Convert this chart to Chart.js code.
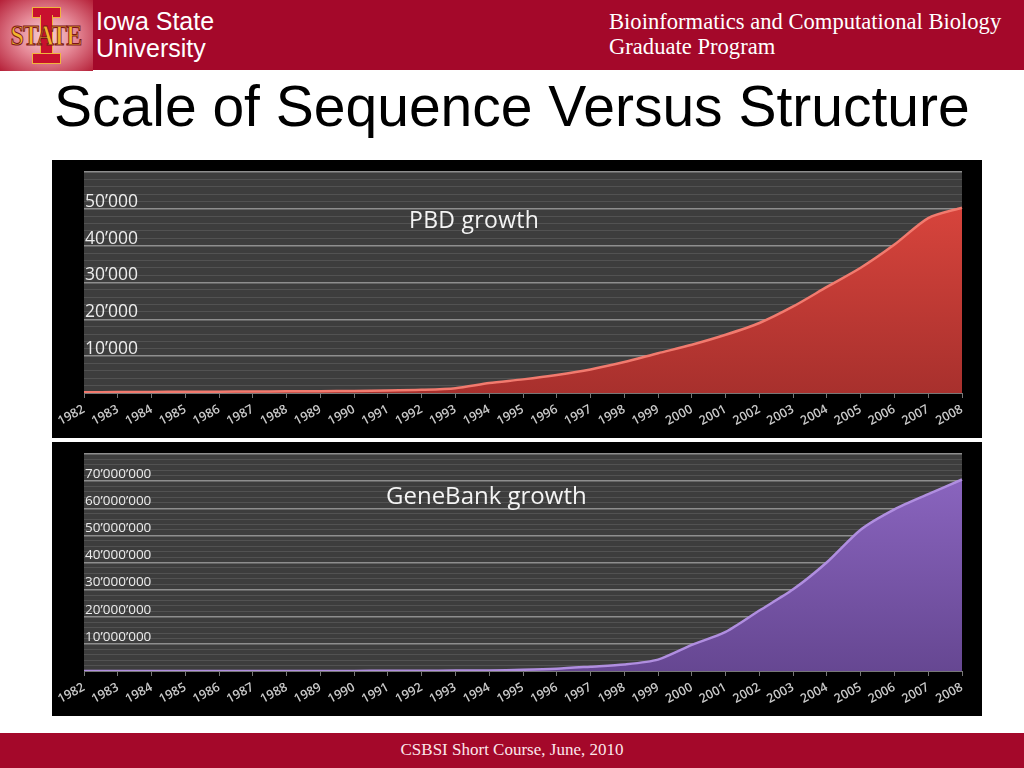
<!DOCTYPE html>
<html>
<head>
<meta charset="utf-8">
<title>Scale of Sequence Versus Structure</title>
<script src="https://cdn.jsdelivr.net/npm/chart.js@4.4.0/dist/chart.umd.min.js"></script>
<style>
  body { margin: 0; width: 1024px; height: 768px; background: #fff; position: relative; overflow: hidden; font-family: "Liberation Sans", Arial, sans-serif; }
  #header { position: absolute; left: 0; top: 0; width: 1024px; height: 70px; background: #a4082a; }
  #logo { position: absolute; left: 0; top: 0; width: 93px; height: 71px; background: radial-gradient(ellipse at 50% 50%, #f8d3d8 0%, #e58896 45%, #b52038 100%); overflow: hidden; }
  .ibar { position: absolute; background: #c8102e; border: 1px solid #f0b43c; }
  #state { position: absolute; left: -4px; top: 18px; width: 100px; text-align: center; font: bold 30px "Liberation Serif", serif; color: #f3b52c; -webkit-text-stroke: 1px #7a1418; transform: scaleX(0.8); letter-spacing: -1px; }
  #isu { position: absolute; left: 96px; top: 8px; font-size: 25px; line-height: 27px; color: #fff; }
  #program { position: absolute; left: 609px; top: 9px; font: 22.6px/25px "Liberation Serif", "Times New Roman", serif; color: #fff; }
  #title { position: absolute; left: 54px; top: 78px; font-size: 57px; line-height: 56px; color: #000; white-space: nowrap; }
  .panel { position: absolute; left: 52px; width: 930px; background: #000; }
  .ctitle { position: absolute; font: 23px/23px "Open Sans", sans-serif; color: #f4f4f4; letter-spacing: 0.3px; }
  #footer { position: absolute; left: 0; top: 733px; width: 1024px; height: 35px; background: #a4082a; text-align: center; font: 17px/33px "Liberation Serif", "Times New Roman", serif; color: #fbe6ea; }
</style>
</head>
<body>
<div id="header"></div>
<div id="logo">
  <div class="ibar" style="left:32px;top:7px;width:27px;height:9px"></div>
  <div class="ibar" style="left:40px;top:15px;width:11px;height:40px;border-top:none;border-bottom:none"></div>
  <div class="ibar" style="left:32px;top:53px;width:27px;height:9px"></div>
  <div id="state">STATE</div>
</div>
<div id="isu">Iowa State<br>University</div>
<div id="program">Bioinformatics and Computational Biology<br>Graduate Program</div>
<div id="title">Scale of Sequence Versus Structure</div>

<div class="panel" style="top:160px;height:278px"><canvas id="pdbchart"></canvas></div>
<div class="panel" style="top:442px;height:274px"><canvas id="genbankchart"></canvas></div>
<div class="ctitle" style="left:409px;top:208px">PBD growth</div>
<div class="ctitle" style="left:386px;top:483px;font-size:24px;letter-spacing:0">GeneBank growth</div>

<div id="footer">CSBSI Short Course, June, 2010</div>

<script>
// values
var years = ['1982', '1983', '1984', '1985', '1986', '1987', '1988', '1989', '1990', '1991',
    '1992', '1993', '1994', '1995', '1996', '1997', '1998', '1999', '2000', '2001',
    '2002', '2003', '2004', '2005', '2006', '2007', '2008']

var pdbCounts = [200, 250, 300, 320, 350, 400, 450, 500, 550, 650,
    850, 1300, 2700, 3700, 4900, 6400, 8400, 10800, 13100, 15800,
    19000, 23500, 28800, 34000, 40300, 47500, 50300]

var genbankCounts = [600, 2000, 4000, 6000, 10000, 15000, 20000, 30000, 40000, 55000,
    80000, 140000, 220000, 450000, 850000, 1600000, 2400000, 4200000, 9600000, 14400000,
    22300000, 30100000, 40100000, 52100000, 59600000, 65200000, 70600000]

var pdbTickValues = [10000, 20000, 30000, 40000, 50000]
var genbankTickValues = [10000000, 20000000, 30000000, 40000000, 50000000, 60000000, 70000000]

function withQuotes(v) {
    return String(v).replace(/\B(?=(\d{3})+(?!\d))/g, '\u2019');
}

var plotBackground = {
    id: 'plotBackground',
    beforeDraw: function (chart) {
        var a = chart.chartArea;
        var c = chart.ctx;
        c.save();
        c.fillStyle = '#3d3d3d';
        c.fillRect(a.left, a.top, a.right - a.left, a.bottom - a.top);
        c.restore();
    }
};

function makeChart(id, values, yMax, minorStep, majorStep, tickValues, labelSize, lineColor, topColor, bottomColor) {
    var ctx = document.getElementById(id);
    return new Chart(ctx, {
        type: 'line',
        data: {
            labels: years,
            datasets: [{
                data: values,
                fill: 'origin',
                borderColor: lineColor,
                borderWidth: 2.5,
                pointRadius: 0,
                tension: 0.25,
                backgroundColor: function (context) {
                    var area = context.chart.chartArea;
                    if (!area) return bottomColor;
                    var g = context.chart.ctx.createLinearGradient(0, area.top, 0, area.bottom);
                    g.addColorStop(0, topColor);
                    g.addColorStop(1, bottomColor);
                    return g;
                }
            }]
        },
        options: {
            responsive: true,
            maintainAspectRatio: false,
            animation: false,
            layout: { padding: { left: 30, right: 20, top: 12, bottom: 0 } },
            scales: {
                x: {
                    afterFit: function (scale) { scale.height = 45; },
                    grid: { drawOnChartArea: false, drawTicks: true, tickLength: 5, color: '#777' },
                    border: { color: '#777' },
                    ticks: {
                        autoSkip: false,
                        minRotation: 28,
                        maxRotation: 28,
                        padding: 4,
                        color: '#c9c9c9',
                        font: { family: 'Open Sans', size: 12.5, weight: '600' }
                    }
                },
                y: {
                    min: 0,
                    max: yMax,
                    border: { display: false },
                    grid: {
                        drawTicks: false,
                        lineWidth: function (c) { return c.tick && c.tick.value % majorStep === 0 ? 1.5 : 1; },
                        color: function (c) { return c.tick && c.tick.value % majorStep === 0 ? '#8e8e8e' : '#525252'; }
                    },
                    ticks: {
                        stepSize: minorStep,
                        autoSkip: false,
                        mirror: true,
                        padding: 1,
                        labelOffset: -7,
                        color: '#ececec',
                        font: { family: 'Open Sans', size: labelSize },
                        callback: function (v) { return tickValues.includes(v) ? withQuotes(v) : ''; }
                    }
                }
            },
            plugins: {
                legend: { display: false },
                tooltip: { enabled: false }
            }
        },
        plugins: [plotBackground]
    });
}

makeChart('pdbchart', pdbCounts, 60000, 2000, 10000, pdbTickValues, 17.5,
    '#f27a6e', '#e0483f', '#a8302d');
makeChart('genbankchart', genbankCounts, 80000000, 2000000, 10000000, genbankTickValues, 13.5,
    '#b08ee0', '#8e68c4', '#664792');
</script>
</body>
</html>
